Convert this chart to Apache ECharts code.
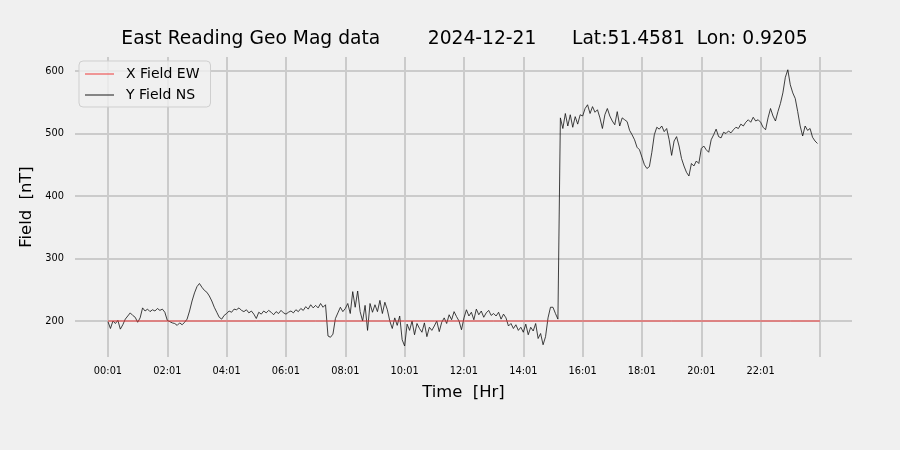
<!DOCTYPE html>
<html>
<head>
<meta charset="utf-8">
<script src="https://cdn.jsdelivr.net/npm/echarts@6/dist/echarts.min.js"></script>
<style>
  html, body { margin: 0; padding: 0; background: #f0f0f0; }
  #chart { width: 900px; height: 450px; }
</style>
</head>
<body>
<div id="chart"></div>
<script>
// ---- data ----
const titleText = 'East Reading Geo Mag data        2024-12-21      Lat:51.4581  Lon: 0.9205';
const seriesNames = ['X Field EW', 'Y Field NS'];

// Y Field NS, one value every 5 minutes from 00:01 (12 values per hour)
const NS_STEP_MIN = 5;
const yFieldNS = [
  199, 188, 200, 196, 201, 187, 194, 203, 208, 213, 209, 206,   // 00
  198, 205, 221, 216, 219, 215, 218, 216, 220, 217, 219, 214,   // 01
  201, 199, 197, 196, 193, 197, 194, 198, 203, 216, 232, 245,   // 02
  255, 260, 254, 249, 246, 240, 232, 222, 214, 206, 203, 209,   // 03
  212, 216, 214, 219, 218, 221, 217, 215, 218, 213, 216, 211,   // 04
  204, 214, 211, 216, 213, 217, 214, 210, 215, 212, 217, 213,   // 05
  211, 214, 216, 213, 218, 215, 220, 217, 223, 219, 226, 221,   // 06
  225, 221, 228, 222, 226, 176, 174, 179, 204, 213, 222, 215,   // 07
  220, 228, 212, 247, 222, 248, 215, 200, 225, 185, 228, 214,   // 08
  226, 215, 233, 212, 230, 218, 200, 188, 205, 193, 208, 170,   // 09
  160, 195, 185, 200, 178, 196, 188, 182, 197, 175, 190, 185,   // 10
  192, 200, 183, 198, 205, 196, 210, 202, 215, 207, 200, 186,   // 11
  205, 218, 208, 214, 202, 219, 210, 216, 206, 213, 217, 209,   // 12
  212, 208, 214, 203, 211, 205, 192, 196, 188, 194, 185, 190,   // 13
  182, 195, 178, 190, 184, 196, 172, 180, 162, 175, 205, 222,   // 14
  222, 212, 203, 525, 508, 532, 512, 530, 510, 527, 515, 530,   // 15
  528, 540, 546, 532, 543, 534, 538, 525, 508, 530, 540, 528,   // 16
  520, 514, 535, 512, 525, 522, 519, 505, 498, 490, 478, 474,   // 17
  462, 450, 444, 447, 470, 498, 510, 507, 512, 503, 508, 490,   // 18
  465, 488, 495, 480, 460, 448, 438, 432, 452, 448, 456, 452,   // 19
  476, 480, 474, 470, 490, 498, 507, 495, 493, 502, 500, 504,   // 20
  501, 506, 510, 508, 515, 512, 518, 522, 518, 526, 520, 522,   // 21
  518, 510, 506, 525, 540, 528, 520, 535, 548, 565, 590, 602,   // 22
  578, 565, 556, 535, 512, 496, 512, 505, 508, 494, 488, 484    // 23
];

// X Field EW, one value per hour from 00:01
const EW_STEP_MIN = 60;
const xFieldEW = [
  200, 200, 200, 200, 200, 200, 200, 200, 200, 200, 200, 200, 200,
  200, 200, 200, 200, 200, 200, 200, 200, 200, 200, 200, 200
];

// axes
const xTickMinutes = [0, 120, 240, 360, 480, 600, 720, 840, 960, 1080, 1200, 1320, 1440];
const xTickLabels = ['00:01', '02:01', '04:01', '06:01', '08:01', '10:01', '12:01', '14:01',
                     '16:01', '18:01', '20:01', '22:01'];
const yTicks = [200, 300, 400, 500, 600];

// ---- chart ----
const FONT = 'DejaVu Sans';
const labelMinutes = xTickMinutes.slice(0, xTickLabels.length);
const labelFor = {};
labelMinutes.forEach((m, i) => { labelFor[m] = xTickLabels[i]; });

const chart = echarts.init(document.getElementById('chart'), null, { renderer: 'canvas' });
chart.setOption({
  animation: false,
  backgroundColor: '#f0f0f0',
  textStyle: { fontFamily: FONT },
  title: {
    text: titleText,
    left: 459.5,
    textAlign: 'center',
    top: 25,
    textStyle: { fontFamily: FONT, fontSize: 18.7, fontWeight: 'normal', color: '#000' }
  },
  legend: {
    orient: 'vertical',
    left: 79,
    top: 61,
    padding: [5, 11, 4, 6],
    itemGap: 5,
    itemWidth: 29,
    itemHeight: 1,
    icon: 'rect',
    backgroundColor: 'rgba(240,240,240,0.8)',
    borderColor: '#cfcfcf',
    borderWidth: 1,
    borderRadius: 4,
    textStyle: { fontFamily: FONT, fontSize: 14, color: '#000', lineHeight: 16, padding: [0, 0, 0, 7] },
    data: seriesNames
  },
  grid: { left: 75, right: 48, top: 57, bottom: 93, containLabel: false },
  xAxis: {
    type: 'value',
    min: -66.7,
    max: 1504.8,
    name: 'Time  [Hr]',
    nameLocation: 'middle',
    nameGap: 28,
    nameTextStyle: { fontFamily: FONT, fontSize: 16.4, color: '#000' },
    axisLine: { show: false },
    axisTick: { show: false, customValues: xTickMinutes },
    axisLabel: {
      customValues: labelMinutes,
      formatter: (v) => labelFor[v] || '',
      margin: 9,
      fontFamily: FONT, fontSize: 9.8, color: '#000'
    },
    splitLine: { show: true, lineStyle: { color: '#cbcbcb', width: 2 } }
  },
  yAxis: {
    type: 'value',
    min: 142.4,
    max: 622.4,
    name: 'Field  [nT]',
    nameLocation: 'middle',
    nameGap: 37,
    nameRotate: 90,
    nameTextStyle: { fontFamily: FONT, fontSize: 16.4, color: '#000' },
    axisLine: { show: false },
    axisTick: { show: false, customValues: yTicks },
    axisLabel: {
      customValues: yTicks,
      margin: 11,
      fontFamily: FONT, fontSize: 9.8, color: '#000'
    },
    splitLine: { show: true, lineStyle: { color: '#cbcbcb', width: 2 } }
  },
  series: [
    {
      name: seriesNames[0],
      type: 'line',
      showSymbol: false,
      z: 3,
      color: '#ee3a3a',
      lineStyle: { color: '#ee3a3a', width: 1 },
      data: xFieldEW.map((v, i) => [i * EW_STEP_MIN, v])
    },
    {
      name: seriesNames[1],
      type: 'line',
      showSymbol: false,
      z: 2,
      color: '#1a1a1a',
      lineStyle: { color: '#111', width: 0.8 },
      data: yFieldNS.map((v, i) => [i * NS_STEP_MIN, v])
    }
  ]
});
</script>
</body>
</html>
